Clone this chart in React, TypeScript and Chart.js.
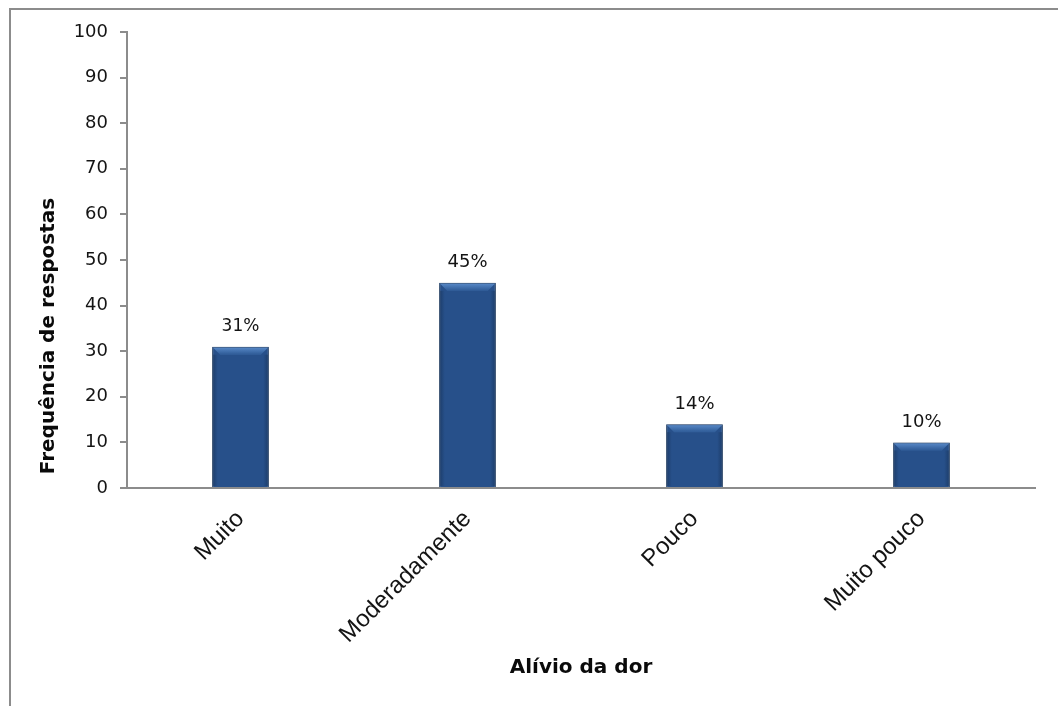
import React, { useEffect, useRef } from "react";
import { Chart, registerables } from "chart.js";

Chart.register(...registerables);

const categories = ["Muito", "Moderadamente", "Pouco", "Muito pouco"];
const values = [31, 45, 14, 10];
const yTicksMin = 0;
const yTicksMax = 100;
const yTicksStep = 10;
const xTitle = "Alívio da dor";
const yTitle = "Frequência de respostas";

const AXIS = "#8c8c8c";
const TEXT = "#141414";

const barDecor = {
  id: "barDecor",
  beforeDatasetsDraw(chart: any) {
    const ctx = chart.ctx;
    ctx.save();
    ctx.shadowColor = "rgba(0,0,0,0.35)";
    ctx.shadowBlur = 4;
    ctx.shadowOffsetX = 0;
    ctx.shadowOffsetY = 1;
  },
  afterDatasetsDraw(chart: any) {
    const ctx = chart.ctx;
    ctx.restore();
    const meta = chart.getDatasetMeta(0);
    meta.data.forEach((el: any, i: number) => {
      const props = el.getProps(["x", "y", "width", "base"], true);
      const left = props.x - props.width / 2;
      const right = props.x + props.width / 2;
      const top = props.y;
      const b = 7;
      // top bevel
      const g = ctx.createLinearGradient(0, top, 0, top + b);
      g.addColorStop(0, "#5c8dcc");
      g.addColorStop(1, "#33609c");
      ctx.save();
      ctx.fillStyle = g;
      ctx.beginPath();
      ctx.moveTo(left + 1, top + 1);
      ctx.lineTo(right - 1, top + 1);
      ctx.lineTo(right - 1 - b, top + 1 + b);
      ctx.lineTo(left + 1 + b, top + 1 + b);
      ctx.closePath();
      ctx.fill();
      // side shading
      const sg = ctx.createLinearGradient(left, 0, right, 0);
      sg.addColorStop(0, "rgba(20,45,80,0.6)");
      sg.addColorStop(0.1, "rgba(20,45,80,0)");
      sg.addColorStop(0.9, "rgba(20,45,80,0)");
      sg.addColorStop(1, "rgba(20,45,80,0.6)");
      ctx.fillStyle = sg;
      ctx.fillRect(left + 1, top + 1 + b, right - left - 2, props.base - top - 2 - b);
      ctx.restore();
      // value label
      ctx.save();
      ctx.fillStyle = TEXT;
      ctx.font = `${i === 0 ? 17 : 18}px "DejaVu Sans"`;
      ctx.textAlign = "center";
      ctx.textBaseline = "alphabetic";
      ctx.fillText(`${values[i]}%`, props.x, top - 15.5);
      ctx.restore();
    });
  },
};

const yTitlePlugin = {
  id: "yTitlePlugin",
  afterDraw(chart: any) {
    const ctx = chart.ctx;
    const area = chart.chartArea;
    ctx.save();
    ctx.translate(area.left - 78, area.bottom - 152);
    ctx.rotate(-Math.PI / 2);
    ctx.fillStyle = "#0a0a0a";
    ctx.font = 'bold 20px "DejaVu Sans"';
    ctx.textAlign = "center";
    ctx.textBaseline = "middle";
    ctx.fillText(yTitle, 0, 0);
    ctx.restore();
  },
};

export default function App() {
  const ref = useRef<HTMLCanvasElement | null>(null);

  useEffect(() => {
    if (!ref.current) return;
    const chart = new Chart(ref.current, {
      type: "bar",
      data: {
        labels: categories,
        datasets: [
          {
            data: values,
            backgroundColor: "#27508a",
            borderColor: "#1d3f6c",
            borderWidth: 1,
            categoryPercentage: 1,
            barPercentage: 0.25,
          },
        ],
      },
      options: {
        animation: false,
        responsive: true,
        maintainAspectRatio: false,
        layout: { padding: { left: 0, top: 32, right: 23, bottom: 0 } },
        plugins: {
          legend: { display: false },
          tooltip: { enabled: false },
        },
        scales: {
          x: {
            grid: { display: false, drawTicks: false },
            border: { display: true, color: AXIS, width: 2 },
            ticks: {
              minRotation: 45,
              maxRotation: 45,
              padding: 17,
              color: TEXT,
              font: { family: '"Liberation Sans", Arial, sans-serif', size: 24 },
            },
            title: {
              display: true,
              text: xTitle,
              color: "#0a0a0a",
              font: { family: '"DejaVu Sans"', size: 20, weight: "bold" },
              padding: { top: 0, bottom: 26 },
            },
            afterFit(scale: any) {
              scale.height = 218;
            },
          },
          y: {
            min: yTicksMin,
            max: yTicksMax,
            grid: {
              drawOnChartArea: false,
              drawTicks: true,
              tickLength: 7,
              color: AXIS,
              lineWidth: 2,
            },
            border: { display: true, color: AXIS, width: 2 },
            ticks: {
              stepSize: yTicksStep,
              padding: 12,
              color: TEXT,
              font: { family: '"DejaVu Sans"', size: 18 },
            },
            afterFit(scale: any) {
              scale.width = 127;
            },
          },
        },
      },
      plugins: [barDecor, yTitlePlugin],
    });
    return () => chart.destroy();
  }, []);

  return (
    <div style={{ position: "fixed", left: 0, top: 0, width: 1058, height: 706, background: "#fff", overflow: "hidden" }}>
      <div
        style={{
          position: "absolute",
          left: 9,
          top: 8,
          width: 1200,
          height: 900,
          border: "2px solid #8c8c8c",
        }}
      />
      <div style={{ position: "absolute", left: 0, top: 0, width: 1058, height: 706 }}>
        <canvas ref={ref} />
      </div>
    </div>
  );
}
